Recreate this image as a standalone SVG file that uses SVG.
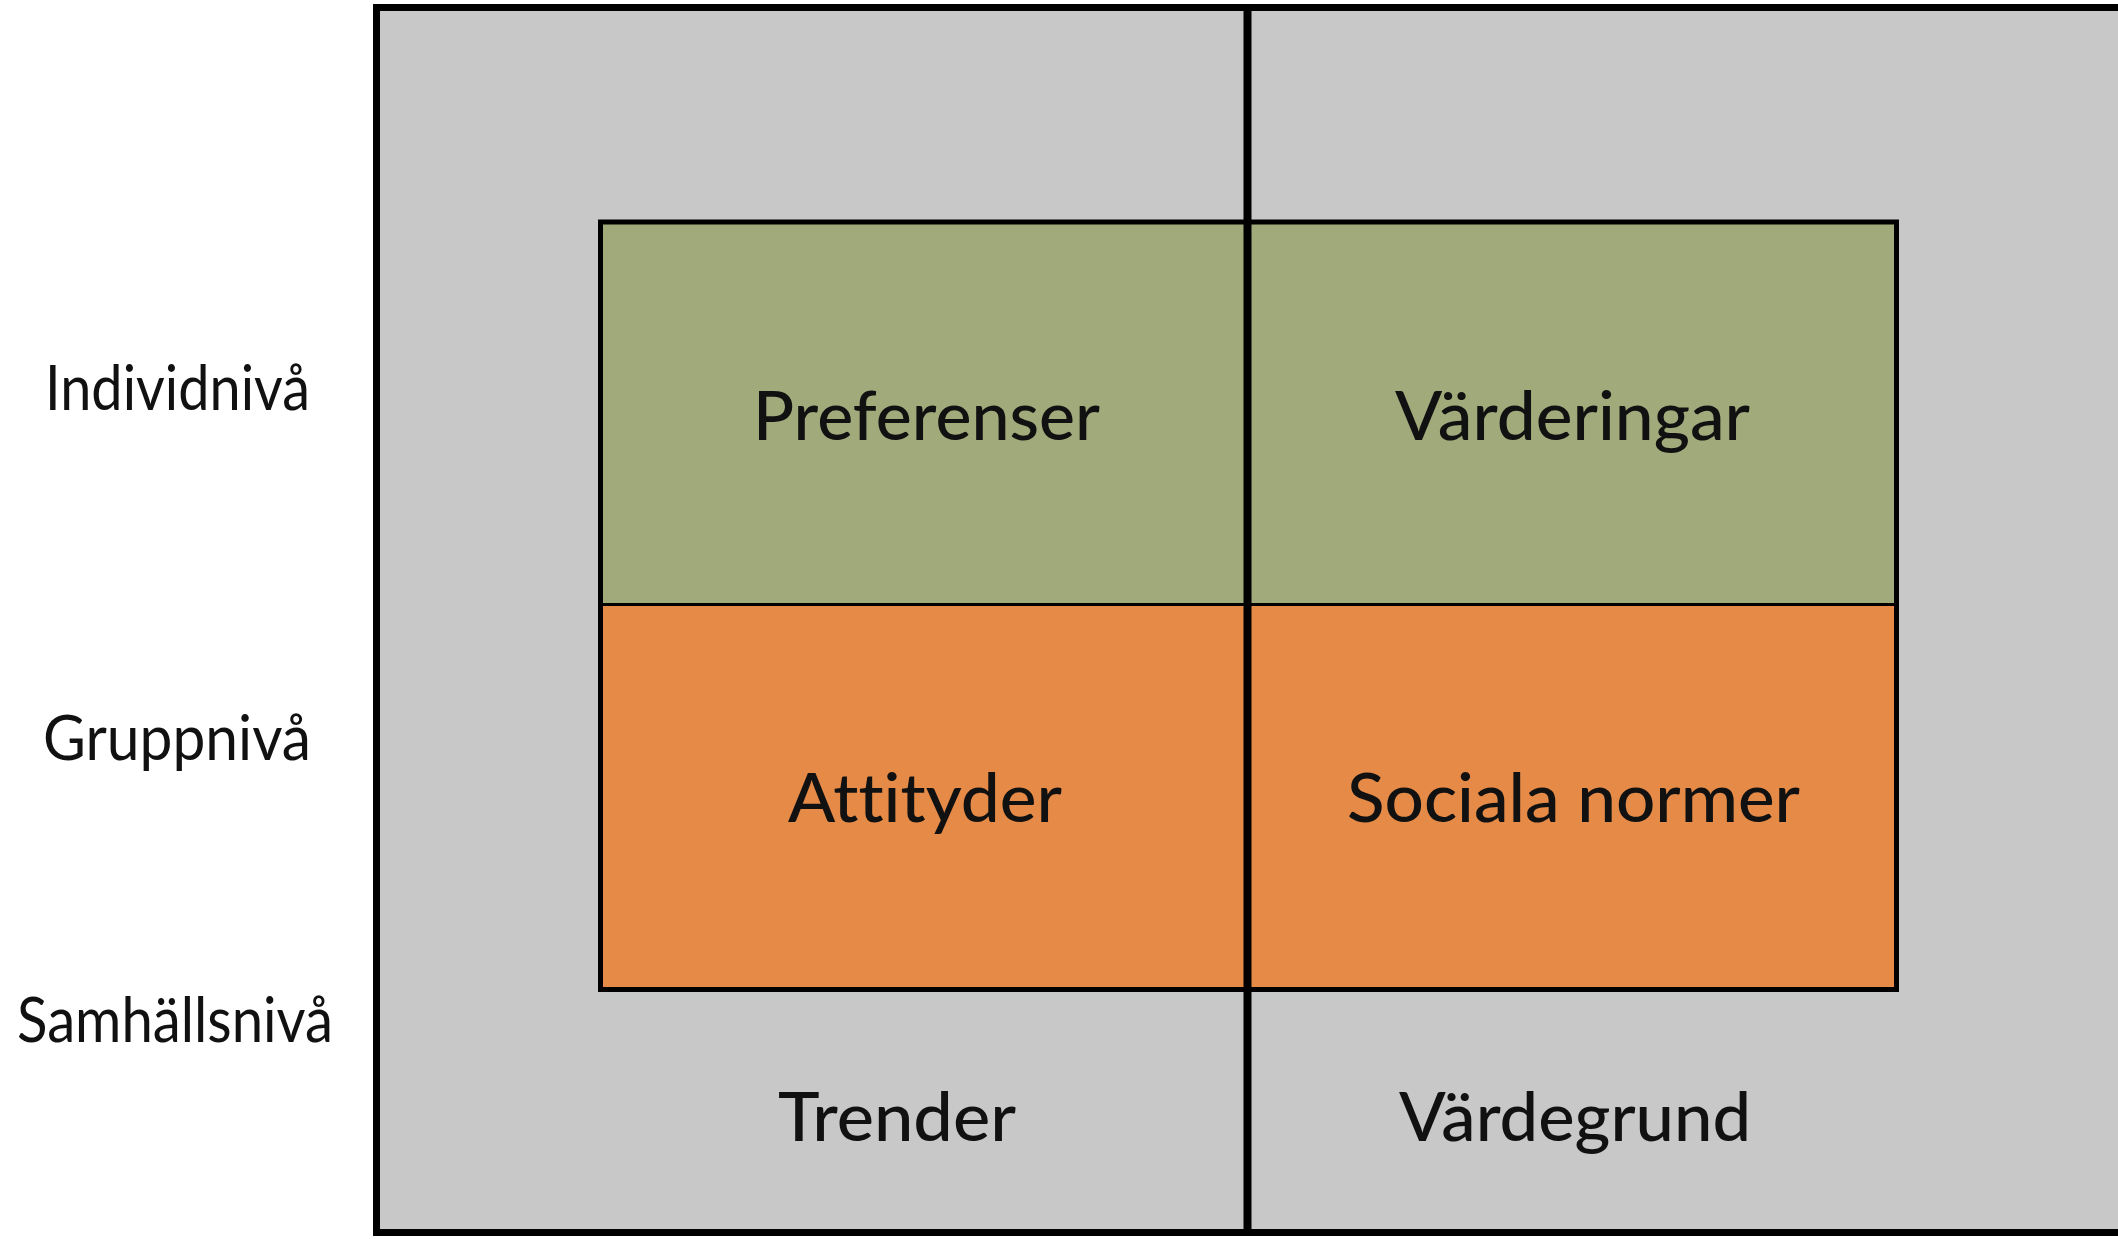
<svg xmlns="http://www.w3.org/2000/svg" width="2118" height="1239" viewBox="0 0 2118 1239">
<style>
.lbl{font-family:Lato,"Open Sans","Liberation Sans",sans-serif;fill:#111;text-anchor:middle;font-variant-ligatures:none;font-feature-settings:"liga" 0}
.big{font-size:67px;font-weight:500}
.side{font-size:61px}
.ln{stroke:#000;fill:none}
</style>
<rect width="2118" height="1239" fill="#ffffff"/>
<g id="frame">
<rect x="376.5" y="7.5" width="1746" height="1225" fill="#c8c8c8" stroke="#000" stroke-width="7"/>
</g>
<g id="node-preferenser">
<rect x="600.5" y="222" width="647" height="382.5" fill="#a0aa7b"/>
<text class="lbl big" x="926.5" y="440" textLength="347" lengthAdjust="spacingAndGlyphs">Preferenser</text>
</g>
<g id="node-varderingar">
<rect x="1247.5" y="222" width="649" height="382.5" fill="#a0aa7b"/>
<text class="lbl big" x="1572.5" y="440" textLength="355" lengthAdjust="spacingAndGlyphs">Värderingar</text>
</g>
<g id="node-attityder">
<rect x="600.5" y="604.5" width="647" height="385" fill="#e68b47"/>
<text class="lbl big" x="925" y="822" textLength="274" lengthAdjust="spacingAndGlyphs">Attityder</text>
</g>
<g id="node-sociala-normer">
<rect x="1247.5" y="604.5" width="649" height="385" fill="#e68b47"/>
<text class="lbl big" x="1573.5" y="822" textLength="453" lengthAdjust="spacingAndGlyphs">Sociala normer</text>
</g>
<g id="node-trender">
<text class="lbl big" x="897" y="1141" textLength="238" lengthAdjust="spacingAndGlyphs">Trender</text>
</g>
<g id="node-vardegrund">
<text class="lbl big" x="1575" y="1141" textLength="352" lengthAdjust="spacingAndGlyphs">Värdegrund</text>
</g>
<g id="row-labels">
<text class="lbl side" x="177.5" y="410" textLength="265" lengthAdjust="spacingAndGlyphs">Individnivå</text>
<text class="lbl side" x="177" y="760" textLength="268" lengthAdjust="spacingAndGlyphs">Gruppnivå</text>
<text class="lbl side" x="175" y="1042" textLength="316" lengthAdjust="spacingAndGlyphs">Samhällsnivå</text>
</g>
<g id="connectors">
<rect class="ln" x="600.5" y="222" width="1296" height="767.5" stroke-width="5"/>
<line class="ln" x1="600.5" y1="604.5" x2="1896.5" y2="604.5" stroke-width="3"/>
<line class="ln" x1="1247.5" y1="7" x2="1247.5" y2="1232" stroke-width="8"/>
</g>
</svg>
